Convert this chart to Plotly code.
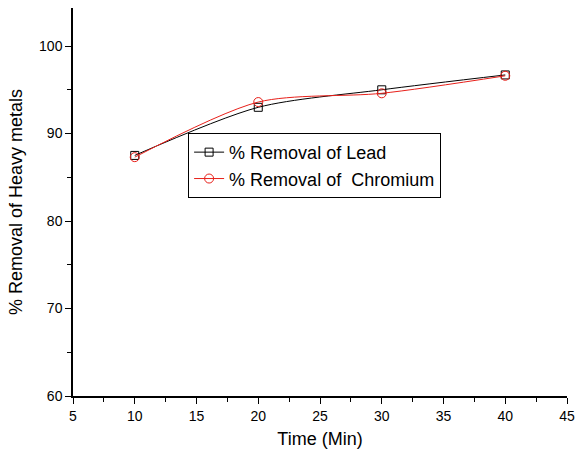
import plotly.graph_objects as go

time_min = [10, 20, 30, 40]
lead_removal = [87.5, 93.0, 95.0, 96.7]
chromium_removal = [87.3, 93.6, 94.6, 96.6]

x_ticks = [5, 10, 15, 20, 25, 30, 35, 40, 45]
y_ticks = [60, 70, 80, 90, 100]

FONT = "Liberation Sans, Arial, sans-serif"

fig = go.Figure()
fig.add_trace(go.Scatter(
    x=time_min, y=lead_removal, mode="lines+markers",
    name="% Removal of Lead",
    line=dict(color="black", width=1, shape="spline", smoothing=0.8),
    marker=dict(symbol="square-open", size=8, color="black", line=dict(width=1)),
))
fig.add_trace(go.Scatter(
    x=time_min, y=chromium_removal, mode="lines+markers",
    name="% Removal of  Chromium",
    line=dict(color="#e8201a", width=1, shape="spline", smoothing=0.8),
    marker=dict(symbol="circle-open", size=9, color="#e8201a", line=dict(width=1)),
))

axis_common = dict(
    showgrid=False, zeroline=False, showline=True, linecolor="black", linewidth=1.5,
    ticks="outside", ticklen=6, tickwidth=1.2, tickcolor="black",
    tickfont=dict(family=FONT, size=14, color="black"),
    minor=dict(ticks="outside", ticklen=4, tickwidth=1, tickcolor="black"),
)

fig.update_xaxes(
    range=[5, 45], tickvals=x_ticks, minor_dtick=2.5,
    title=dict(text="Time (Min)", font=dict(family=FONT, size=18, color="black"), standoff=10),
    **axis_common,
)
fig.update_yaxes(
    range=[60, 104.35], tickvals=y_ticks, minor_dtick=5,
    title=dict(text="% Removal of Heavy metals", font=dict(family=FONT, size=18, color="black"), standoff=12),
    **axis_common,
)

fig.update_layout(
    width=582, height=455,
    margin=dict(l=73, r=15, t=8, b=59),
    plot_bgcolor="white", paper_bgcolor="white",
    legend=dict(
        x=0.233, y=0.678, xanchor="left", yanchor="top",
        bordercolor="black", borderwidth=1, bgcolor="white",
        font=dict(family=FONT, size=18, color="black"),
        itemwidth=30, tracegroupgap=0,
    ),
    showlegend=True,
)

fig.write_html("out.html")
